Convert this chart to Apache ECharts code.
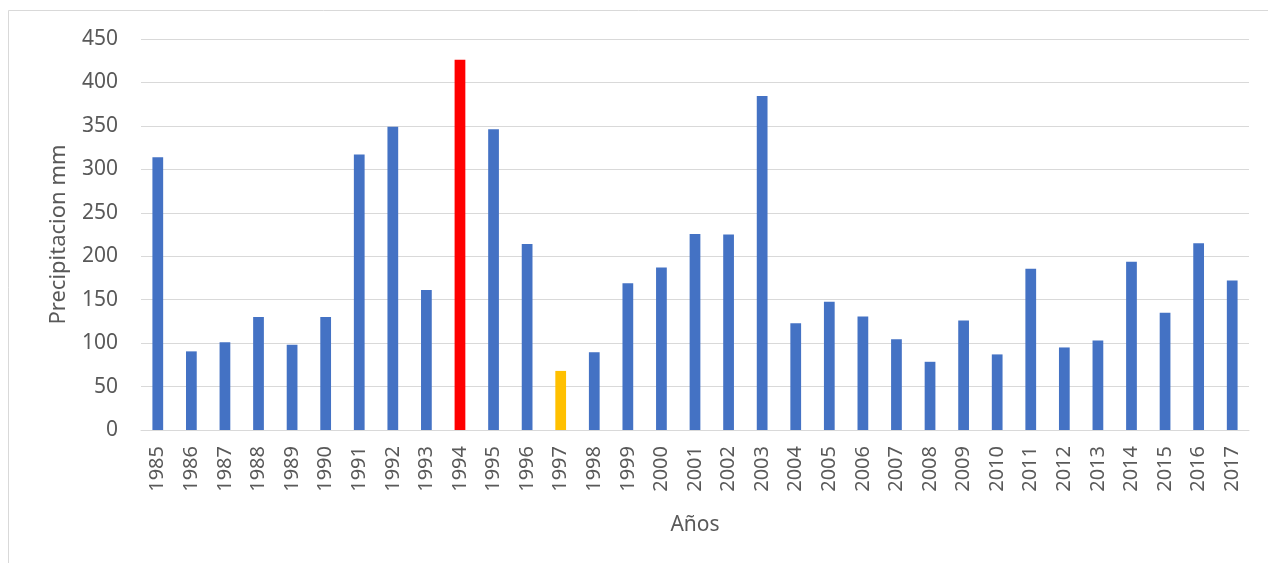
<!DOCTYPE html>
<html>
<head>
<meta charset="utf-8">
<script src="https://cdn.jsdelivr.net/npm/echarts@6/dist/echarts.min.js"></script>
<style>
html,body{margin:0;padding:0;background:#fff;}
#c{width:1268px;height:563px;}
</style>
</head>
<body>
<div id="c"></div>
<script>
const years = ['1985','1986','1987','1988','1989','1990','1991','1992','1993','1994','1995','1996','1997','1998','1999','2000','2001','2002','2003','2004','2005','2006','2007','2008','2009','2010','2011','2012','2013','2014','2015','2016','2017'];
const precipitation = [314,90.5,101,130,98,130,317,349,161,426,346,214,68,89.5,169,187,225.5,225,384.5,123,147.5,130.5,104.5,78.5,126,87,185.5,95,103,193.5,135,215,172];
const highlightMax = '1994';
const highlightMin = '1997';
const yTicks = {min:0, max:450, interval:50};

const colors = {base:'#4472C4', max:'#FF0000', min:'#FFC000'};
const data = precipitation.map((v,i)=>({
  value:v,
  itemStyle:{color: years[i]===highlightMax ? colors.max : (years[i]===highlightMin ? colors.min : colors.base)}
}));

const chart = echarts.init(document.getElementById('c'), null, {renderer:'canvas'});
const font = 'Noto Sans, Open Sans, sans-serif';
chart.setOption({
  backgroundColor:'#fff',
  animation:false,
  graphic:[{type:'rect', shape:{x:8.5,y:10.5,width:1400,height:700}, style:{fill:'none', stroke:'#D9D9D9', lineWidth:1}, silent:true, z:-1}],
  grid:{left:141, right:19, top:39, bottom:133},
  xAxis:{
    type:'category', data:years,
    axisLine:{lineStyle:{color:'#D9D9D9'}},
    axisTick:{show:false},
    axisLabel:{rotate:90, color:'#595959', fontSize:20, fontFamily:font, margin:16, interval:0},
    name:'Años', nameLocation:'middle', nameGap:85,
    nameTextStyle:{color:'#595959', fontSize:21, fontFamily:font}
  },
  yAxis:{
    type:'value', min:yTicks.min, max:yTicks.max, interval:yTicks.interval,
    axisLine:{show:false}, axisTick:{show:false},
    splitLine:{lineStyle:{color:'#D9D9D9', width:1}},
    axisLabel:{color:'#595959', fontSize:21, fontFamily:font, margin:23},
    name:'Precipitacion mm', nameLocation:'middle', nameGap:71,
    nameTextStyle:{color:'#595959', fontSize:22, fontFamily:font}
  },
  series:[{type:'bar', data:data, barWidth:'32%'}]
});
</script>
</body>
</html>
